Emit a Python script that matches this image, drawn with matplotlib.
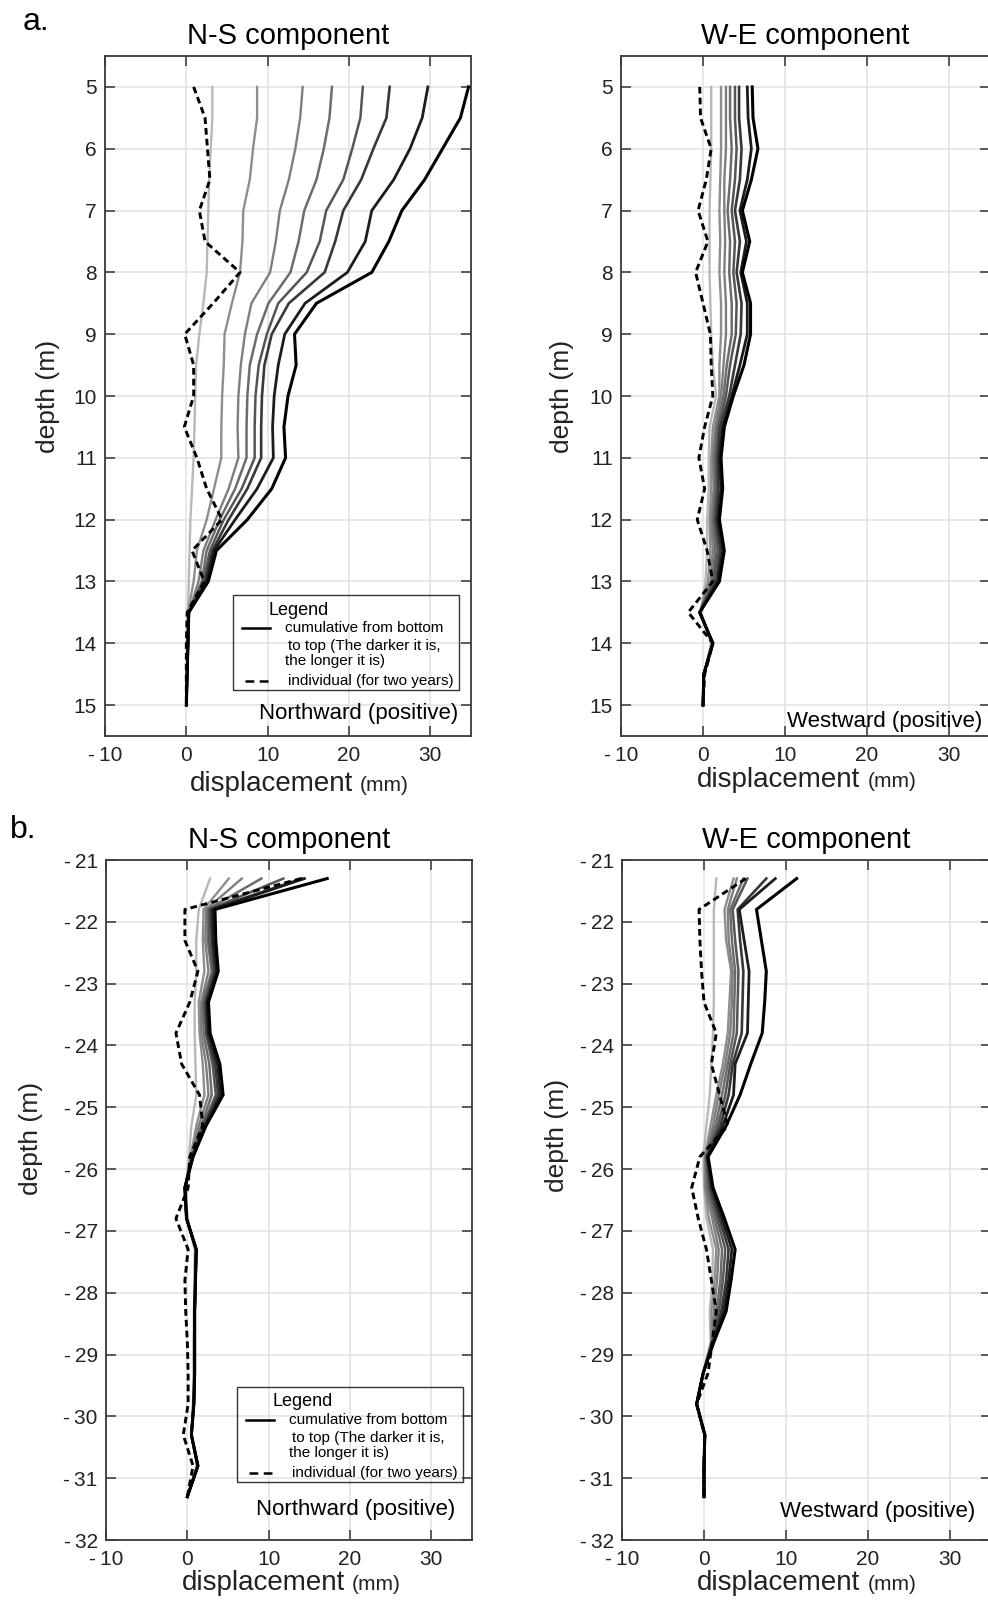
import numpy as np
import matplotlib
matplotlib.use("Agg")
import matplotlib.pyplot as plt
from matplotlib.lines import Line2D
from matplotlib.patches import Rectangle

plt.rcParams['font.family'] = ['Liberation Sans', 'DejaVu Sans']
plt.rcParams['axes.unicode_minus'] = False

W, H = 988, 1602

# ---------------- data (mm) ----------------
# panel a: depth 5 .. 15 m
a_depth = [5.0, 5.5, 6.0, 6.5, 7.0, 7.5, 8.0, 8.5, 9.0, 9.5, 10.0,
           10.5, 11.0, 11.5, 12.0, 12.5, 13.0, 13.5, 14.0, 14.5, 15.0]

# N-S cumulative, lightest (shortest) to darkest (longest)
a_ns_cum = [
    [3.2, 3.2, 3.0, 2.8, 2.7, 2.6, 2.5, 2.1, 1.6, 1.2, 1.1, 1.0, 0.9, 0.7, 0.5, 0.4, 0.3, 0.2, 0.1, 0.1, 0.0],
    [8.7, 8.7, 8.2, 7.8, 7.0, 6.9, 6.6, 5.6, 4.7, 4.6, 4.4, 4.3, 4.3, 3.4, 2.5, 1.3, 0.9, 0.2, 0.1, 0.1, 0.0],
    [14.3, 14.0, 13.4, 12.6, 11.5, 11.0, 10.3, 8.0, 7.2, 6.7, 6.4, 6.3, 6.4, 5.2, 3.6, 2.1, 1.5, 0.3, 0.2, 0.1, 0.0],
    [17.9, 17.6, 16.9, 16.0, 14.5, 13.8, 12.8, 10.1, 8.7, 7.8, 7.5, 7.4, 7.4, 6.0, 4.1, 2.5, 1.9, 0.3, 0.2, 0.1, 0.0],
    [21.7, 21.4, 20.4, 19.3, 17.2, 16.4, 14.8, 11.3, 9.9, 8.9, 8.5, 8.4, 8.4, 6.8, 4.6, 2.9, 2.1, 0.3, 0.2, 0.1, 0.0],
    [25.0, 24.6, 23.0, 21.5, 19.3, 18.3, 17.0, 12.6, 10.5, 9.6, 9.3, 9.2, 9.2, 7.5, 5.2, 3.2, 2.3, 0.3, 0.2, 0.1, 0.0],
    [29.7, 29.0, 27.5, 25.5, 22.8, 22.0, 19.8, 14.6, 12.1, 11.3, 10.8, 10.6, 10.7, 8.7, 6.0, 3.4, 2.5, 0.3, 0.2, 0.1, 0.0],
    [34.7, 33.7, 31.5, 29.3, 26.5, 24.9, 22.8, 16.0, 13.3, 13.5, 12.5, 12.0, 12.2, 10.5, 7.5, 3.7, 2.7, 0.3, 0.2, 0.1, 0.0],
]
a_ns_ind = [0.9, 2.3, 2.6, 2.9, 1.6, 2.3, 6.6, 3.3, -0.2, 0.9, 0.9,
            -0.25, 1.3, 2.5, 4.4, 0.7, 2.2, 0.1, 0.0, 0.0, 0.0]

a_we_cum = [
    [1.0, 1.0, 1.0, 0.9, 0.8, 0.8, 0.8, 0.9, 1.0, 1.2, 1.6, 0.8, 0.7, 0.7, 0.5, 0.5, 0.3, -0.3, 1.0, 0.1, 0.0],
    [2.2, 2.2, 2.2, 2.1, 2.0, 2.1, 2.0, 2.2, 2.2, 2.0, 2.0, 1.2, 1.0, 1.0, 0.8, 0.9, 0.6, -0.3, 1.1, 0.1, 0.0],
    [2.8, 2.8, 2.8, 2.6, 2.6, 2.7, 2.6, 2.8, 2.8, 2.5, 2.2, 1.5, 1.2, 1.3, 1.0, 1.2, 0.9, -0.4, 1.1, 0.1, 0.0],
    [3.3, 3.3, 3.5, 3.3, 3.0, 3.3, 3.2, 3.5, 3.5, 2.9, 2.5, 1.7, 1.4, 1.5, 1.2, 1.5, 1.1, -0.4, 1.2, 0.1, 0.0],
    [3.9, 3.9, 4.1, 3.9, 3.5, 3.9, 3.7, 4.1, 4.0, 3.3, 2.8, 1.9, 1.6, 1.7, 1.4, 1.8, 1.3, -0.4, 1.2, 0.1, 0.0],
    [4.4, 4.4, 4.7, 4.5, 3.9, 4.5, 4.1, 4.7, 4.6, 3.9, 3.2, 2.1, 1.8, 1.9, 1.6, 2.1, 1.6, -0.4, 1.2, 0.1, 0.0],
    [5.4, 5.5, 5.9, 5.4, 4.5, 5.3, 4.6, 5.4, 5.4, 4.5, 3.5, 2.4, 2.0, 2.2, 1.8, 2.4, 1.8, -0.4, 1.2, 0.1, 0.0],
    [6.0, 6.1, 6.7, 5.9, 4.8, 5.7, 4.8, 5.8, 5.8, 5.0, 3.7, 2.6, 2.2, 2.4, 2.0, 2.6, 2.0, -0.4, 1.2, 0.1, 0.0],
]
a_we_ind = [-0.4, -0.3, 1.0, 0.4, -0.6, 0.6, -0.9, 0.0, 0.9, 1.0, 1.2,
            0.2, -0.5, 0.2, -0.7, 0.5, 1.2, -1.8, 1.2, 0.2, 0.0]

# panel b: depth -21.3 .. -31.3 m
b_depth = [-21.3, -21.8, -22.3, -22.8, -23.3, -23.8, -24.3, -24.8, -25.3, -25.8, -26.3,
           -26.8, -27.3, -27.8, -28.3, -28.8, -29.3, -29.8, -30.3, -30.8, -31.3]

b_ns_cum = [
    [2.8, 1.4, 1.1, 1.1, 0.9, 0.9, 1.0, 1.1, 0.5, 0.2, -0.2, 0.0, 0.9, 0.9, 0.8, 0.8, 0.8, 0.7, 0.5, 1.2, 0.0],
    [5.1, 2.0, 1.9, 2.1, 1.4, 1.5, 1.9, 2.1, 1.1, 0.4, -0.2, 0.0, 1.0, 0.9, 0.9, 0.8, 0.8, 0.7, 0.5, 1.2, 0.0],
    [6.7, 2.3, 2.2, 2.6, 1.7, 1.7, 2.3, 2.6, 1.4, 0.5, -0.3, -0.1, 1.0, 1.0, 0.9, 0.9, 0.9, 0.8, 0.5, 1.2, 0.0],
    [9.1, 2.5, 2.5, 3.0, 1.9, 2.0, 2.7, 3.0, 1.7, 0.5, -0.3, -0.1, 1.1, 1.0, 0.9, 0.9, 0.9, 0.8, 0.5, 1.3, 0.0],
    [11.8, 2.7, 2.7, 3.2, 2.1, 2.3, 3.1, 3.5, 1.9, 0.6, -0.3, -0.1, 1.1, 1.0, 0.9, 0.9, 0.9, 0.8, 0.5, 1.3, 0.0],
    [14.1, 2.9, 3.0, 3.4, 2.3, 2.4, 3.4, 3.8, 2.1, 0.6, -0.3, -0.1, 1.1, 1.0, 0.9, 0.9, 0.9, 0.8, 0.5, 1.3, 0.0],
    [14.4, 3.1, 3.2, 3.6, 2.4, 2.6, 3.7, 4.1, 2.2, 0.7, -0.3, -0.1, 1.1, 1.0, 0.9, 0.9, 0.9, 0.8, 0.5, 1.3, 0.0],
    [17.2, 3.4, 3.5, 3.8, 2.6, 2.8, 4.0, 4.4, 2.3, 0.7, -0.3, -0.1, 1.1, 1.0, 0.9, 0.9, 0.9, 0.8, 0.5, 1.3, 0.0],
]
b_ns_ind = [14.0, -0.3, -0.3, 1.3, 0.3, -1.4, -0.7, 1.5, 1.9, 0.3, 0.1,
            -1.4, 0.1, -0.3, -0.2, 0.0, 0.1, 0.1, -0.5, 0.7, 0.0]

b_we_cum = [
    [1.5, 1.2, 1.2, 1.2, 1.2, 1.1, 0.9, 0.7, 0.3, -0.1, 0.0, 0.3, 1.1, 1.0, 0.7, 0.8, -0.1, -0.9, 0.1, 0.0, 0.0],
    [3.6, 2.5, 2.7, 3.3, 3.1, 2.9, 2.3, 1.5, 0.8, 0.1, 0.1, 0.6, 1.5, 1.3, 0.9, 0.9, -0.1, -0.9, 0.1, 0.0, 0.0],
    [4.0, 2.9, 3.0, 3.5, 3.4, 3.2, 2.6, 1.8, 1.1, 0.2, 0.2, 1.0, 1.8, 1.6, 1.2, 0.9, -0.1, -0.9, 0.1, 0.0, 0.0],
    [4.8, 3.2, 3.4, 3.8, 3.7, 3.6, 2.9, 2.2, 1.4, 0.2, 0.4, 1.3, 2.2, 2.0, 1.5, 1.0, -0.1, -0.9, 0.1, 0.0, 0.0],
    [5.3, 3.5, 3.8, 4.2, 4.1, 4.0, 3.2, 2.6, 1.7, 0.3, 0.6, 1.6, 2.6, 2.3, 1.8, 1.0, -0.1, -0.9, 0.1, 0.0, 0.0],
    [7.6, 4.1, 4.4, 4.8, 4.7, 4.6, 3.5, 3.0, 2.0, 0.4, 0.8, 1.9, 3.0, 2.7, 2.1, 1.1, -0.1, -0.9, 0.1, 0.0, 0.0],
    [8.7, 4.3, 4.9, 5.5, 5.4, 5.3, 3.8, 3.6, 2.3, 0.4, 1.0, 2.2, 3.4, 3.0, 2.4, 1.1, -0.1, -0.9, 0.1, 0.0, 0.0],
    [11.3, 6.4, 7.0, 7.6, 7.4, 7.1, 5.7, 4.4, 2.7, 0.5, 1.1, 2.5, 3.8, 3.3, 2.7, 1.2, -0.1, -0.9, 0.1, 0.0, 0.0],
]
b_we_ind = [5.1, -0.6, -0.5, -0.3, 0.0, 1.5, 0.9, 1.9, 2.9, -0.5, -1.5,
            -0.7, 0.3, 0.9, 1.5, 1.0, 0.5, -0.9, 0.1, 0.0, 0.0]

x_ticks = [-10, 0, 10, 20, 30]
a_yticks = [5, 6, 7, 8, 9, 10, 11, 12, 13, 14, 15]
b_yticks = [-21, -22, -23, -24, -25, -26, -27, -28, -29, -30, -31, -32]

grays = ['#b8b8b8', '#8e8e8e', '#7e7e7e', '#6c6c6c', '#555555', '#383838', '#1c1c1c', '#000000']
widths = [1.7, 1.7, 1.7, 1.8, 1.8, 1.9, 2.0, 2.2]


def tick_text(v):
    # MATLAB-like minus with a small gap
    return ('-\u2009' + str(-v)) if v < 0 else str(v)


def fx(px):
    return px / W


def fy(py):
    return 1 - py / H


def make_axes(left, top, right, bottom):
    return fig.add_axes([fx(left), fy(bottom), (right - left) / W, (bottom - top) / H])


def draw_panel(ax, depth, cum, ind, ylim, yticks, title):
    for vals, c, lw in zip(cum, grays, widths):
        ax.plot(vals, depth, color=c, lw=lw, solid_joinstyle='miter')
    ax.plot(ind, depth, color='black', lw=2.1, ls=(0, (2.3, 1.4)))
    ax.set_xlim(-10, 35)
    ax.set_ylim(*ylim)
    ax.set_xticks(x_ticks)
    ax.set_yticks(yticks)
    ax.set_xticklabels([tick_text(t) for t in x_ticks])
    ax.set_yticklabels([tick_text(t) for t in yticks])
    ax.grid(True, color='#e2e2e2', lw=1.1)
    ax.set_axisbelow(True)
    ax.tick_params(direction='in', top=True, right=True, length=7, width=1.1,
                   labelsize=15, colors='#333333', labelcolor='#222222')
    ax.tick_params(axis='x', pad=7)
    ax.tick_params(axis='y', pad=6)
    for s in ax.spines.values():
        s.set_color('#3a3a3a')
        s.set_linewidth(1.3)
    ax.set_title(title, fontsize=21, pad=9)


def draw_legend(x0, y0):
    # legend box placed at pixel offsets from (x0, y0) = box top-left
    fig.patches.append(Rectangle((fx(x0), fy(y0 + 95)), 226 / W, 95 / H,
                                 transform=fig.transFigure, fill=False,
                                 edgecolor='#333333', lw=1.0))
    fig.text(fx(x0 + 35), fy(y0 + 15), 'Legend', fontsize=13, va='center', ha='left')
    fig.lines.append(Line2D([fx(x0 + 9), fx(x0 + 37)], [fy(y0 + 33)] * 2,
                            transform=fig.transFigure, color='black', lw=1.8))
    fig.text(fx(x0 + 52), fy(y0 + 33), 'cumulative from bottom', fontsize=11, va='center')
    fig.text(fx(x0 + 55), fy(y0 + 51), 'to top (The darker it is,', fontsize=11, va='center')
    fig.text(fx(x0 + 52), fy(y0 + 66), 'the longer it is)', fontsize=11, va='center')
    fig.lines.append(Line2D([fx(x0 + 12), fx(x0 + 40)], [fy(y0 + 86)] * 2,
                            transform=fig.transFigure, color='black', lw=1.8,
                            ls=(0, (3.5, 2.2))))
    fig.text(fx(x0 + 55), fy(y0 + 86), 'individual (for two years)', fontsize=11, va='center')


fig = plt.figure(figsize=(W / 100, H / 100), dpi=100)

ax1 = make_axes(105, 56, 471, 736)
ax2 = make_axes(621, 56, 990, 736)
ax3 = make_axes(106, 860, 472, 1540)
ax4 = make_axes(622, 860, 991, 1540)

draw_panel(ax1, a_depth, a_ns_cum, a_ns_ind, (15.5, 4.5), a_yticks, 'N-S component')
draw_panel(ax2, a_depth, a_we_cum, a_we_ind, (15.5, 4.5), a_yticks, 'W-E component')
draw_panel(ax3, b_depth, b_ns_cum, b_ns_ind, (-32, -21), b_yticks, 'N-S component')
draw_panel(ax4, b_depth, b_we_cum, b_we_ind, (-32, -21), b_yticks, 'W-E component')

# direction notes
fig.text(fx(458), fy(713), 'Northward (positive)', fontsize=16, ha='right', va='center')
fig.text(fx(982), fy(722), 'Westward (positive)', fontsize=16, ha='right', va='center')
fig.text(fx(455), fy(1510), 'Northward (positive)', fontsize=16, ha='right', va='center')
fig.text(fx(975), fy(1512), 'Westward (positive)', fontsize=16, ha='right', va='center')

# legends
draw_legend(233, 595)
draw_legend(237, 1387)

# axis labels
for xl, xm, yb in [(190, 360, 791), (697, 868, 787), (182, 352, 1590), (697, 868, 1590)]:
    fig.text(fx(xl), fy(yb), 'displacement', fontsize=20, va='baseline', color='#222222')
    fig.text(fx(xm), fy(yb), '(mm)', fontsize=15, va='baseline', color='#222222')

for xc, yc in [(48, 396), (562, 396), (31, 1138), (557, 1135)]:
    fig.text(fx(xc), fy(yc), 'depth (m)', fontsize=19, rotation=90,
             ha='center', va='center', color='#222222')

fig.text(fx(23), fy(22), 'a.', fontsize=23, ha='left', va='center')
fig.text(fx(10), fy(830), 'b.', fontsize=23, ha='left', va='center')

fig.savefig('out.png', dpi=100)
